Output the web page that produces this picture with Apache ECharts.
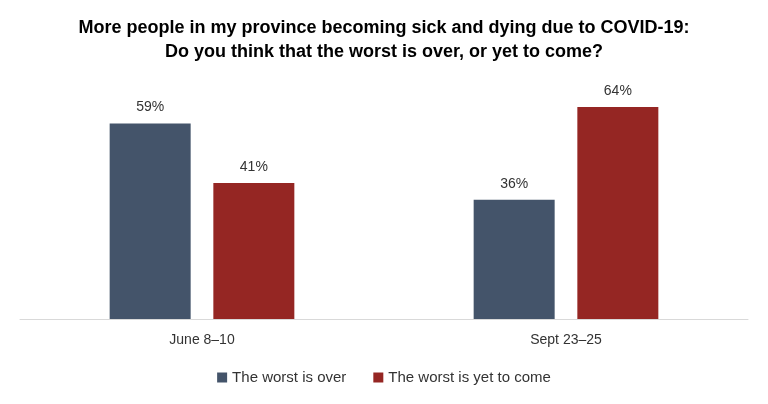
<!DOCTYPE html>
<html lang="en">
<head>
    <meta charset="utf-8"/>
    <title>COVID-19 worst over</title>
    <script src="https://cdn.jsdelivr.net/npm/echarts@6.0.0/dist/echarts.min.js"></script>
</head>
<body style="margin: 0;">
<div id="chart" style="width: 768px;height:404px;"></div>

<script type="text/javascript">
    var font = "'Liberation Sans Narrow', 'Liberation Sans', sans-serif";

    var categories = ["June 8\u201310", "Sept 23\u201325"];
    var worstOver = [59, 36];
    var yetToCome = [41, 64];

    var chart = echarts.init(document.getElementById('chart'));

    chart.setOption({
        animation: false,
        title: {
            text: "More people in my province becoming sick and dying due to COVID-19:\nDo you think that the worst is over, or yet to come?",
            left: 'center',
            top: 11,
            textStyle: {
                fontFamily: font,
                fontSize: 18,
                fontWeight: 'bold',
                color: '#000',
                lineHeight: 24
            }
        },
        legend: {
            bottom: 14,
            left: 'center',
            itemWidth: 10,
            itemHeight: 10,
            itemGap: 27,
            icon: 'rect',
            textStyle: {fontFamily: font, fontSize: 15, color: '#333'}
        },
        grid: {left: 20, right: 20, top: 87, bottom: 85},
        xAxis: {
            type: 'category',
            data: categories,
            axisTick: {show: false},
            axisLine: {lineStyle: {color: '#d9d9d9', width: 1}},
            axisLabel: {fontFamily: font, fontSize: 14, color: '#333', margin: 14}
        },
        yAxis: {
            type: 'value',
            min: 0,
            max: 70,
            show: false
        },
        series: [
            {
                name: 'The worst is over',
                type: 'bar',
                data: worstOver,
                barWidth: 81,
                barGap: '28%',
                itemStyle: {color: '#44546a'},
                label: {show: true, position: 'top', distance: 9, formatter: '{c}%',
                    fontFamily: font, fontSize: 14, color: '#333'}
            },
            {
                name: 'The worst is yet to come',
                type: 'bar',
                data: yetToCome,
                barWidth: 81,
                itemStyle: {color: '#952623'},
                label: {show: true, position: 'top', distance: 9, formatter: '{c}%',
                    fontFamily: font, fontSize: 14, color: '#333'}
            }
        ]
    });
</script>
</body>
</html>
